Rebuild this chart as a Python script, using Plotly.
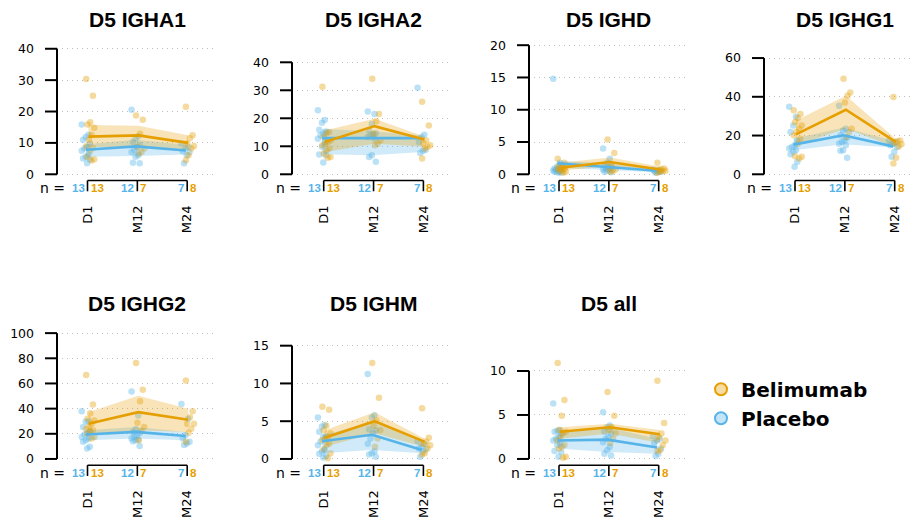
import plotly.graph_objects as go

# ---------------------------------------------------------------- data
TIMES = ["D1", "M12", "M24"]
TITLES = ["D5 IGHA1", "D5 IGHA2", "D5 IGHD", "D5 IGHG1", "D5 IGHG2", "D5 IGHM", "D5 all"]

# per-subject values, one list per time point (D1, M12, M24)
IGHA1_PLA = [[15.9, 12.6, 11.9, 11.0, 9.8, 8.7, 8.2, 7.5, 6.4, 5.6, 5.0, 4.7, 3.5],
             [20.6, 12.1, 11.3, 10.3, 9.4, 8.7, 7.7, 7.1, 6.1, 5.6, 3.7, 3.5],
             [9.8, 8.7, 8.2, 7.3, 7.1, 6.1, 3.5]]
IGHA1_BEL = [[30.4, 25.0, 16.6, 15.9, 14.8, 12.5, 11.0, 8.9, 8.4, 7.5, 5.6, 4.8, 4.4],
             [18.7, 17.4, 12.9, 8.7, 8.2, 7.1, 6.6],
             [21.5, 12.4, 11.5, 9.8, 9.0, 8.2, 6.1, 4.5]]
IGHA1_PLA_MID, IGHA1_PLA_LO, IGHA1_PLA_HI = [7.8, 8.9, 7.6], [5.6, 5.8, 6.3], [9.6, 11.0, 9.4]
IGHA1_BEL_MID, IGHA1_BEL_LO, IGHA1_BEL_HI = [12.0, 12.4, 10.0], [8.7, 8.7, 7.7], [15.7, 15.5, 12.4]

IGHA2_PLA = [[22.9, 19.4, 18.4, 15.9, 15.3, 14.5, 13.9, 12.7, 11.5, 9.8, 7.1, 6.8, 4.2],
             [22.4, 21.5, 18.0, 15.6, 14.7, 14.2, 13.9, 13.3, 12.7, 6.8, 6.2, 4.5],
             [30.9, 14.1, 13.3, 11.5, 8.8, 8.4, 7.6]]
IGHA2_BEL = [[31.3, 15.1, 14.7, 13.3, 12.1, 11.5, 10.9, 10.4, 9.2, 8.4, 7.4, 6.2, 5.9],
             [34.1, 21.5, 18.9, 14.5, 12.1, 10.9, 10.4],
             [25.9, 17.4, 12.1, 11.2, 10.4, 9.8, 9.2, 5.6]]
IGHA2_PLA_MID, IGHA2_PLA_LO, IGHA2_PLA_HI = [12.9, 12.9, 12.9], [7.2, 6.8, 8.0], [16.2, 15.4, 13.9]
IGHA2_BEL_MID, IGHA2_BEL_LO, IGHA2_BEL_HI = [11.5, 17.2, 12.4], [8.0, 10.9, 9.8], [15.6, 19.8, 13.5]

IGHD_PLA = [[14.8, 1.8, 1.2, 0.9, 0.9, 0.8, 0.7, 0.6, 0.5, 0.4, 0.4, 0.3, 0.25],
            [4.0, 2.4, 1.8, 1.4, 1.2, 1.1, 0.9, 0.75, 0.7, 0.55, 0.4, 0.3],
            [0.75, 0.65, 0.55, 0.5, 0.4, 0.35, 0.25]]
IGHD_BEL = [[2.4, 1.8, 1.4, 1.3, 1.2, 1.2, 1.0, 0.9, 0.75, 0.7, 0.55, 0.4, 0.25],
            [5.4, 3.3, 1.2, 0.9, 0.75, 0.55, 0.4],
            [1.8, 0.9, 0.8, 0.65, 0.55, 0.5, 0.4, 0.25]]
IGHD_PLA_MID, IGHD_PLA_LO, IGHD_PLA_HI = [1.7, 1.1, 0.55], [1.0, 0.6, 0.3], [2.1, 1.7, 0.75]
IGHD_BEL_MID, IGHD_BEL_LO, IGHD_BEL_HI = [1.0, 1.9, 0.75], [0.6, 1.2, 0.45], [1.8, 2.6, 1.2]

IGHG1_PLA = [[34.8, 29.7, 25.2, 21.8, 17.5, 15.0, 14.1, 13.3, 12.4, 11.6, 10.4, 6.5, 3.9],
             [35.4, 23.5, 22.6, 20.1, 18.9, 17.5, 16.7, 15.8, 15.0, 12.4, 12.1, 8.5],
             [17.5, 16.7, 15.8, 15.0, 14.1, 11.6, 9.0]]
IGHG1_BEL = [[33.1, 31.1, 29.1, 26.9, 25.2, 23.5, 21.8, 20.1, 18.4, 15.8, 9.3, 9.0, 8.2],
             [49.3, 42.2, 40.5, 37.1, 23.5, 21.8, 19.2],
             [39.9, 17.5, 17.0, 16.3, 15.5, 14.4, 8.5, 5.6]]
IGHG1_PLA_MID, IGHG1_PLA_LO, IGHG1_PLA_HI = [15.3, 20.1, 14.4], [12.4, 15.5, 13.8], [18.4, 24.0, 17.5]
IGHG1_BEL_MID, IGHG1_BEL_LO, IGHG1_BEL_HI = [20.6, 33.3, 16.7], [15.0, 23.5, 14.1], [27.7, 40.5, 18.4]

IGHG2_PLA = [[38.0, 29.8, 29.8, 25.4, 22.3, 20.7, 19.4, 17.5, 16.2, 14.9, 13.6, 9.7, 8.4],
             [53.7, 34.6, 23.6, 21.5, 20.7, 18.8, 17.5, 16.2, 15.4, 14.9, 14.1, 10.2],
             [43.7, 31.9, 18.8, 16.2, 13.6, 12.3, 11.0]]
IGHG2_BEL = [[66.8, 43.2, 36.4, 31.9, 30.6, 28.0, 25.4, 24.1, 22.8, 21.5, 20.2, 17.5, 16.2],
             [76.2, 55.0, 45.8, 28.8, 25.4, 22.3, 14.9],
             [62.3, 38.0, 33.2, 28.0, 28.0, 24.1, 20.9, 13.6]]
IGHG2_PLA_MID, IGHG2_PLA_LO, IGHG2_PLA_HI = [19.4, 21.5, 18.3], [14.9, 16.2, 14.9], [22.8, 25.4, 21.5]
IGHG2_BEL_MID, IGHG2_BEL_LO, IGHG2_BEL_HI = [28.0, 37.2, 31.2], [18.8, 22.8, 21.5], [37.2, 50.3, 39.8]

IGHM_PLA = [[5.5, 4.5, 4.3, 3.6, 3.0, 2.9, 2.3, 1.8, 1.2, 1.0, 0.7, 0.4, 0.2],
            [11.25, 5.8, 5.5, 3.9, 3.8, 3.4, 2.7, 2.0, 1.0, 0.75, 0.6, 0.3],
            [2.35, 2.0, 1.6, 1.4, 1.3, 1.0, 0.3]]
IGHM_BEL = [[6.9, 6.5, 4.4, 3.8, 3.4, 2.9, 2.7, 2.5, 2.0, 1.8, 1.3, 0.75, 0.1],
            [12.7, 8.1, 5.1, 4.4, 3.8, 2.7, 1.6],
            [6.7, 2.8, 2.3, 2.0, 1.8, 1.4, 0.75, 0.6]]
IGHM_PLA_MID, IGHM_PLA_LO, IGHM_PLA_HI = [2.35, 3.2, 1.2], [0.75, 1.2, 0.75], [3.1, 4.9, 2.3]
IGHM_BEL_MID, IGHM_BEL_LO, IGHM_BEL_HI = [2.8, 5.0, 2.3], [1.6, 3.4, 1.6], [3.8, 6.2, 2.7]

ALL_PLA = [[6.3, 3.3, 3.2, 3.1, 2.9, 2.5, 2.3, 2.1, 1.8, 1.6, 0.9, 0.8, 0.25],
           [5.3, 3.8, 3.6, 3.1, 2.9, 2.5, 2.3, 1.9, 1.4, 1.0, 0.6, 0.4],
           [2.6, 2.3, 2.1, 1.8, 1.2, 0.6, 0.35]]
ALL_BEL = [[10.9, 6.7, 4.9, 3.3, 3.1, 2.9, 2.5, 2.1, 1.6, 1.4, 1.2, 0.25, 0.15],
           [7.6, 4.9, 3.6, 3.3, 2.9, 2.3, 1.8],
           [8.9, 4.1, 2.9, 2.5, 2.1, 1.6, 1.0, 0.9]]
ALL_PLA_MID, ALL_PLA_LO, ALL_PLA_HI = [2.1, 2.2, 1.3], [1.2, 0.8, 0.6], [2.9, 3.6, 2.3]
ALL_BEL_MID, ALL_BEL_LO, ALL_BEL_HI = [3.1, 3.6, 2.8], [2.3, 2.9, 1.8], [3.6, 4.0, 3.3]

# y tick values per panel
Y_TICKS = [[0, 10, 20, 30, 40], [0, 10, 20, 30, 40], [0, 5, 10, 15, 20], [0, 20, 40, 60],
           [0, 20, 40, 60, 80, 100], [0, 5, 10, 15], [0, 5, 10]]

PANEL_DATA = [
    (IGHA1_PLA, IGHA1_PLA_MID, IGHA1_PLA_LO, IGHA1_PLA_HI, IGHA1_BEL, IGHA1_BEL_MID, IGHA1_BEL_LO, IGHA1_BEL_HI),
    (IGHA2_PLA, IGHA2_PLA_MID, IGHA2_PLA_LO, IGHA2_PLA_HI, IGHA2_BEL, IGHA2_BEL_MID, IGHA2_BEL_LO, IGHA2_BEL_HI),
    (IGHD_PLA, IGHD_PLA_MID, IGHD_PLA_LO, IGHD_PLA_HI, IGHD_BEL, IGHD_BEL_MID, IGHD_BEL_LO, IGHD_BEL_HI),
    (IGHG1_PLA, IGHG1_PLA_MID, IGHG1_PLA_LO, IGHG1_PLA_HI, IGHG1_BEL, IGHG1_BEL_MID, IGHG1_BEL_LO, IGHG1_BEL_HI),
    (IGHG2_PLA, IGHG2_PLA_MID, IGHG2_PLA_LO, IGHG2_PLA_HI, IGHG2_BEL, IGHG2_BEL_MID, IGHG2_BEL_LO, IGHG2_BEL_HI),
    (IGHM_PLA, IGHM_PLA_MID, IGHM_PLA_LO, IGHM_PLA_HI, IGHM_BEL, IGHM_BEL_MID, IGHM_BEL_LO, IGHM_BEL_HI),
    (ALL_PLA, ALL_PLA_MID, ALL_PLA_LO, ALL_PLA_HI, ALL_BEL, ALL_BEL_MID, ALL_BEL_LO, ALL_BEL_HI),
]

# ---------------------------------------------------------------- style / geometry
W, H = 914, 519
TITLE_FONT = "Liberation Sans, Arial, Helvetica, sans-serif"
BODY_FONT = "DejaVu Sans, Verdana, sans-serif"
ORANGE, BLUE = "#E69F00", "#56B4E9"
ORANGE_PT, BLUE_PT = "rgba(230,159,0,0.38)", "rgba(86,180,233,0.40)"
ORANGE_BAND, BLUE_BAND = "rgba(230,159,0,0.28)", "rgba(86,180,233,0.28)"

AXIS_PX = [57, 292, 529, 764, 57, 292, 529]        # left edge of each plot region
D1_PX = [87.5, 323.7, 559, 795, 87.5, 323.7, 559]  # position of first time point
TOP_TICK_PX = [47.3, 61.0, 43.7, 56.7, 47.0, 59.7, 85.3]
ROW = [0, 0, 0, 0, 1, 1, 1]
ROW_SHIFT = 288
ZERO_PX = 174.3
DOM_TOP, DOM_BOT = 38, 178
CAT_PX = 49.85
YTICK_LEN = 12
BRACKET_PX, BRACKET_TICK_PX, NLAB_PX, TITLE_PX = 180.6, 191.5, 188.3, 17.5


def px(p):
    return p / W


def py(p):
    return 1 - p / H


def spread(n):
    # fixed side-by-side spread so overlapping points stay visible
    return [((k * 5) % 7 - 3) * 0.027 for k in range(n)]


fig = go.Figure()
axes = {}
shapes = []
annos = []

for i, (pla, pla_mid, pla_lo, pla_hi, bel, bel_mid, bel_lo, bel_hi) in enumerate(PANEL_DATA):
    k = i + 1
    xa = "x" if k == 1 else f"x{k}"
    ya = "y" if k == 1 else f"y{k}"
    dy = ROW_SHIFT * ROW[i]
    left = AXIS_PX[i]
    right = min(left + 160, 912)
    xr0 = -(D1_PX[i] - left) / CAT_PX
    xr1 = xr0 + (right - left) / CAT_PX
    ymax = Y_TICKS[i][-1]
    s = (ZERO_PX - TOP_TICK_PX[i]) / ymax
    yr0 = -(DOM_BOT - ZERO_PX) / s
    yr1 = yr0 + (DOM_BOT - DOM_TOP) / s

    def yfrac(v, yr0=yr0, yr1=yr1):
        # value -> fraction of this panel's y domain
        return (v - yr0) / (yr1 - yr0)

    axes["xaxis" if k == 1 else f"xaxis{k}"] = dict(
        domain=[px(left), px(right)], range=[xr0, xr1], anchor=ya,
        tickvals=[0, 1, 2], ticktext=TIMES, tickangle=-90, ticks="",
        showgrid=False, zeroline=False, showline=False,
        tickfont=dict(family=BODY_FONT, size=13, color="black"), ticklabelstandoff=24)
    axes["yaxis" if k == 1 else f"yaxis{k}"] = dict(
        domain=[py(DOM_BOT + dy), py(DOM_TOP + dy)], range=[yr0, yr1], anchor=xa,
        tickvals=Y_TICKS[i], ticks="",
        showgrid=True, gridcolor="#bdbdbd", griddash="1px,4px", gridwidth=1,
        zeroline=False, showline=False,
        tickfont=dict(family=BODY_FONT, size=12.5, color="black"), ticklabelstandoff=22)

    groups = [
        (pla, pla_mid, pla_lo, pla_hi, -0.035, -0.03, BLUE, BLUE_PT, BLUE_BAND),
        (bel, bel_mid, bel_lo, bel_hi, 0.055, 0.02, ORANGE, ORANGE_PT, ORANGE_BAND),
    ]
    # individual values
    for vals, _, _, _, c_off, _, _, ptc, _ in groups:
        xs, ys = [], []
        for t, v in enumerate(vals):
            for off, val in zip(spread(len(v)), v):
                xs.append(t + c_off + off)
                ys.append(val)
        fig.add_trace(go.Scatter(x=xs, y=ys, xaxis=xa, yaxis=ya, mode="markers",
                                 marker=dict(size=6.5, color=ptc, line=dict(width=0)),
                                 cliponaxis=False, showlegend=False, hoverinfo="skip"))
    # confidence bands
    for _, mid, lo, hi, _, l_off, _, _, bandc in groups:
        lx = [t + l_off for t in range(len(TIMES))]
        fig.add_trace(go.Scatter(x=lx, y=hi, xaxis=xa, yaxis=ya, mode="lines",
                                 line=dict(width=0), showlegend=False, hoverinfo="skip"))
        fig.add_trace(go.Scatter(x=lx, y=lo, xaxis=xa, yaxis=ya, mode="lines",
                                 line=dict(width=0), fill="tonexty", fillcolor=bandc,
                                 showlegend=False, hoverinfo="skip"))
    # group summaries
    for _, mid, _, _, _, l_off, col, _, _ in groups:
        lx = [t + l_off for t in range(len(TIMES))]
        fig.add_trace(go.Scatter(x=lx, y=mid, xaxis=xa, yaxis=ya, mode="lines",
                                 line=dict(width=2.6, color=col), showlegend=False,
                                 hoverinfo="skip"))

    # y axis line spanning the tick range only, with outward tick marks
    xl = px(left)
    ydom = f"{ya} domain"
    shapes.append(dict(type="line", xref="paper", yref=ydom, x0=xl, x1=xl,
                       y0=yfrac(0), y1=yfrac(ymax), line=dict(color="black", width=2)))
    for tv in Y_TICKS[i]:
        shapes.append(dict(type="line", xref="paper", yref=ydom,
                           x0=px(left - YTICK_LEN), x1=xl, y0=yfrac(tv), y1=yfrac(tv),
                           line=dict(color="black", width=2)))
    # time-point bracket below the panel
    yb = py(BRACKET_PX + dy)
    shapes.append(dict(type="line", xref=xa, yref="paper", x0=0, x1=len(TIMES) - 1,
                       y0=yb, y1=yb, line=dict(color="black", width=1.6)))
    for t in range(len(TIMES)):
        shapes.append(dict(type="line", xref=xa, yref="paper", x0=t, x1=t,
                           y0=yb, y1=py(BRACKET_TICK_PX + dy), line=dict(color="black", width=1.6)))

    # group sizes
    yn = py(NLAB_PX + dy)
    annos.append(dict(x=0, xref=xa, y=yn, yref="paper", text="n =", showarrow=False,
                      xanchor="right", yanchor="middle", xshift=-21,
                      font=dict(family=BODY_FONT, size=14, color="black")))
    for t in range(len(TIMES)):
        annos.append(dict(x=t, xref=xa, y=yn, yref="paper", text=f"<b>{len(pla[t])}</b>",
                          showarrow=False, xanchor="right", yanchor="middle", xshift=-1,
                          font=dict(size=11.5, color=BLUE)))
        annos.append(dict(x=t, xref=xa, y=yn, yref="paper", text=f"<b>{len(bel[t])}</b>",
                          showarrow=False, xanchor="left", yanchor="middle", xshift=1,
                          font=dict(size=11.5, color=ORANGE)))
    # panel title
    annos.append(dict(x=1, xref=xa, y=py(TITLE_PX + dy), yref="paper",
                      text=f"<b>{TITLES[i]}</b>", showarrow=False,
                      xanchor="center", yanchor="middle", font=dict(size=21, color="black")))

# legend entries
fig.add_trace(go.Scatter(x=[None], y=[None], mode="markers", name="<b>Belimumab</b>",
                         marker=dict(size=11, color="rgba(230,159,0,0.35)",
                                     line=dict(color=ORANGE, width=2.2))))
fig.add_trace(go.Scatter(x=[None], y=[None], mode="markers", name="<b>Placebo</b>",
                         marker=dict(size=11, color="rgba(86,180,233,0.35)",
                                     line=dict(color=BLUE, width=2.2))))

fig.update_layout(
    width=W, height=H, margin=dict(l=0, r=0, t=0, b=0),
    paper_bgcolor="white", plot_bgcolor="white",
    font=dict(family=TITLE_FONT, color="black"),
    shapes=shapes, annotations=annos, hovermode=False,
    legend=dict(x=px(701), y=py(372), xanchor="left", yanchor="top",
                traceorder="normal",
                font=dict(family=BODY_FONT, size=20, color="black"), bgcolor="rgba(0,0,0,0)",
                itemsizing="constant", itemwidth=30, tracegroupgap=0),
    **axes,
)

fig.write_html("out.html")
